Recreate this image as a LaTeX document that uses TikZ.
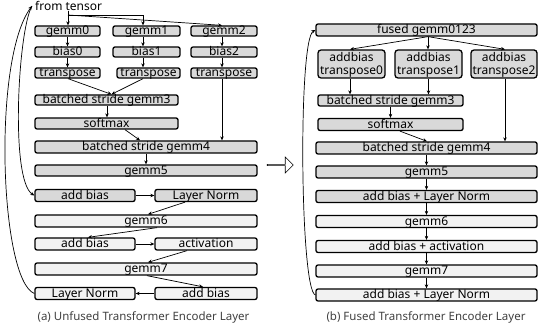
\documentclass[tikz,border=0pt]{standalone}
\usepackage{fontspec}
\setmainfont{Noto Sans}
\usetikzlibrary{arrows.meta,shapes.arrows,calc}
\definecolor{boxdark}{HTML}{D9D9D9}
\definecolor{boxlight}{HTML}{F2F2F2}
\definecolor{captext}{HTML}{404040}
\begin{document}
\begin{tikzpicture}[x=1pt,y=-1pt,
  every node/.style={font=\fontsize{12}{13}\selectfont},
  box/.style={draw, line width=1.3pt, rounded corners=2pt, fill=boxdark, inner sep=0pt,
    text height=8.5pt, text depth=0.5pt},
  lbox/.style={box, fill=boxlight},
  twobox/.style={box, align=center, minimum width=67pt, minimum height=28pt, rounded corners=3pt,
    text height=21.5pt, text depth=0.5pt},
  conn/.style={line width=0.7pt, -{Stealth[length=4pt,width=3.5pt]}},
  plain/.style={line width=0.7pt},
  capstyle/.style={font=\fontsize{11.5}{13}\selectfont, text=captext}]
\useasboundingbox (0,0) rectangle (538,336);

% ---------------- left panel ----------------
\node[anchor=west, inner sep=0pt] (ft) at (35,6) {from tensor};
\node[box, minimum width=65pt, minimum height=10pt] (g0) at (67.5,31) {gemm0};
\node[box, minimum width=67pt, minimum height=10pt] (g1) at (146.5,31) {gemm1};
\node[box, minimum width=66pt, minimum height=10pt] (g2) at (224,31) {gemm2};
\node[box, minimum width=65pt, minimum height=10pt] (b0) at (67.5,52) {bias0};
\node[box, minimum width=67pt, minimum height=10pt] (b1) at (146.5,52) {bias1};
\node[box, minimum width=66pt, minimum height=10pt] (b2) at (224,52) {bias2};
\node[box, minimum width=65pt, minimum height=10pt] (t0) at (67.5,73) {transpose};
\node[box, minimum width=63pt, minimum height=10pt] (t1) at (148.5,73) {transpose};
\node[box, minimum width=66pt, minimum height=10pt] (t2) at (224,73) {transpose};
\node[box, minimum width=143pt, minimum height=10pt] (bs3) at (106.5,100) {batched stride gemm3};
\node[box, minimum width=143pt, minimum height=11pt] (sm) at (106.5,123.5) {softmax};
\node[box, minimum width=222pt, minimum height=12pt] (bs4) at (146,147) {batched stride gemm4};
\node[box, minimum width=222pt, minimum height=11pt] (g5) at (146,170.5) {gemm5};
\node[box, minimum width=100pt, minimum height=12pt] (ab1) at (85,195.5) {add bias};
\node[box, minimum width=102pt, minimum height=12pt] (ln1) at (206,195.5) {Layer Norm};
\node[lbox, minimum width=222pt, minimum height=12pt] (g6) at (146,221) {gemm6};
\node[lbox, minimum width=100pt, minimum height=12pt] (ab2) at (85,244) {add bias};
\node[lbox, minimum width=102pt, minimum height=12pt] (act) at (206,244) {activation};
\node[lbox, minimum width=222pt, minimum height=12pt] (g7) at (146,269) {gemm7};
\node[lbox, minimum width=100pt, minimum height=12pt] (ln2) at (85,293.5) {Layer Norm};
\node[lbox, minimum width=102pt, minimum height=12pt] (ab3) at (206,293.5) {add bias};
\node[capstyle] (capa) at (143.5,317) {(a) Unfused Transformer Encoder Layer};

\coordinate (split) at (68,15);
\coordinate (ftin) at (32,6);
\draw[plain] (ft.south -| split) -- (split);
\draw[conn] (split) -- (g0.north -| split);
\draw[conn] (split) -| ([xshift=-3.5pt]g1.north);
\draw[conn] (split) -- ([xshift=-2pt]g2.north);
\draw[conn] (g0) -- (b0);
\draw[conn] ([xshift=-3.5pt]g1.south) -- ([xshift=-3.5pt]b1.north);
\draw[conn] ([xshift=-2pt]g2.south) -- ([xshift=-2pt]b2.north);
\draw[conn] (b0) -- (t0);
\draw[conn] ([xshift=-3.5pt]b1.south) -- ([xshift=-5.5pt]t1.north);
\draw[conn] ([xshift=-2pt]b2.south) -- ([xshift=-2pt]t2.north);
\coordinate (m3) at ([xshift=5pt]bs3.north);
\draw[conn] ([xshift=0.5pt]t0.south) -- (m3);
\draw[conn] ([xshift=-5.5pt]t1.south) -- (m3);
\draw[conn] ([xshift=-2pt]t2.south) -- ([xshift=-2pt]t2.south |- bs4.north);
\draw[conn] ([xshift=0.5pt]bs3.south) -- ([xshift=0.5pt]sm.north);
\draw[conn] ([xshift=18.5pt]sm.south) -- ([xshift=-6pt]bs4.north);
\draw[conn] (bs4) -- (g5);
\draw[conn] (ab1) -- (ln1);
\draw[conn] ([xshift=-21pt]ln1.south) -- ([xshift=2pt]g6.north);
\draw[conn] ([xshift=11pt]g6.south) -- ([xshift=3pt]ab2.north);
\draw[conn] (ab2) -- (act);
\draw[conn] ([xshift=-19pt]act.south) -- ([xshift=2pt]g7.north);
\draw[conn] ([xshift=1pt]g7.south) -- ([xshift=-3pt]ab3.north);
\draw[conn] (ab3) -- (ln2);
\draw[conn] (ln2.west) .. controls (0,280) and (-8,60) .. (ftin);
\draw[conn] (ftin) .. controls (18,30) and (10,180) .. (ab1.west);

% ---------------- middle arrow ----------------
\node[single arrow, draw, line width=0.6pt, fill=white, minimum height=26pt, minimum width=16pt,
  single arrow head extend=4pt, inner sep=0pt] (big) at (280,165) {};

% ---------------- right panel ----------------
\node[box, minimum width=221pt, minimum height=12pt] (fg) at (426.5,30) {fused gemm0123};
\node[twobox] (at0) at (351.5,64) {addbias\\transpose0};
\node[twobox] (at1) at (428.5,64) {addbias\\transpose1};
\node[twobox, minimum width=66pt] (at2) at (504,64) {addbias\\transpose2};
\node[box, minimum width=145pt, minimum height=11pt] (rbs3) at (390.5,100.5) {batched stride gemm3};
\node[box, minimum width=145pt, minimum height=12pt] (rsm) at (390.5,124.5) {softmax};
\node[box, minimum width=221pt, minimum height=12pt] (rbs4) at (426.5,148) {batched stride gemm4};
\node[box, minimum width=221pt, minimum height=12pt] (rg5) at (426.5,172) {gemm5};
\node[box, minimum width=221pt, minimum height=12pt] (rab1) at (426.5,196.5) {add bias + Layer Norm};
\node[lbox, minimum width=221pt, minimum height=12pt] (rg6) at (426.5,221.5) {gemm6};
\node[lbox, minimum width=221pt, minimum height=12pt] (rab2) at (426.5,246.5) {add bias + activation};
\node[lbox, minimum width=221pt, minimum height=12pt] (rg7) at (426.5,271) {gemm7};
\node[lbox, minimum width=221pt, minimum height=12pt] (rab3) at (426.5,295) {add bias + Layer Norm};
\node[capstyle] (capb) at (426,317) {(b) Fused Transformer Encoder Layer};

\coordinate (fs) at ([xshift=1.5pt]fg.south);
\draw[conn] (fs) -- (fs |- at1.north);
\draw[conn] (fs) -- ([xshift=-1.5pt]at0.north);
\draw[conn] (fs) -- ([xshift=1pt]at2.north);
\draw[conn] ([xshift=-1.5pt]at0.south) -- ([xshift=-1.5pt]at0.south |- rbs3.north);
\draw[conn] (at1.south) -- (at1.south |- rbs3.north);
\draw[conn] ([xshift=1pt]at2.south) -- ([xshift=1pt]at2.south |- rbs4.north);
\draw[conn] (rbs3) -- (rsm);
\draw[conn] ([xshift=9.5pt]rsm.south) -- ([xshift=0.5pt]rbs4.north);
\draw[conn] (rbs4) -- (rg5);
\draw[conn] (rg5) -- (rab1);
\draw[conn] (rab1) -- (rg6);
\draw[conn] (rg6) -- (rab2);
\draw[conn] (rab2) -- (rg7);
\draw[conn] (rg7) -- (rab3);
\draw[conn] (rab3.west) .. controls (300,290) and (298,40) .. (fg.west);
\end{tikzpicture}
\end{document}
